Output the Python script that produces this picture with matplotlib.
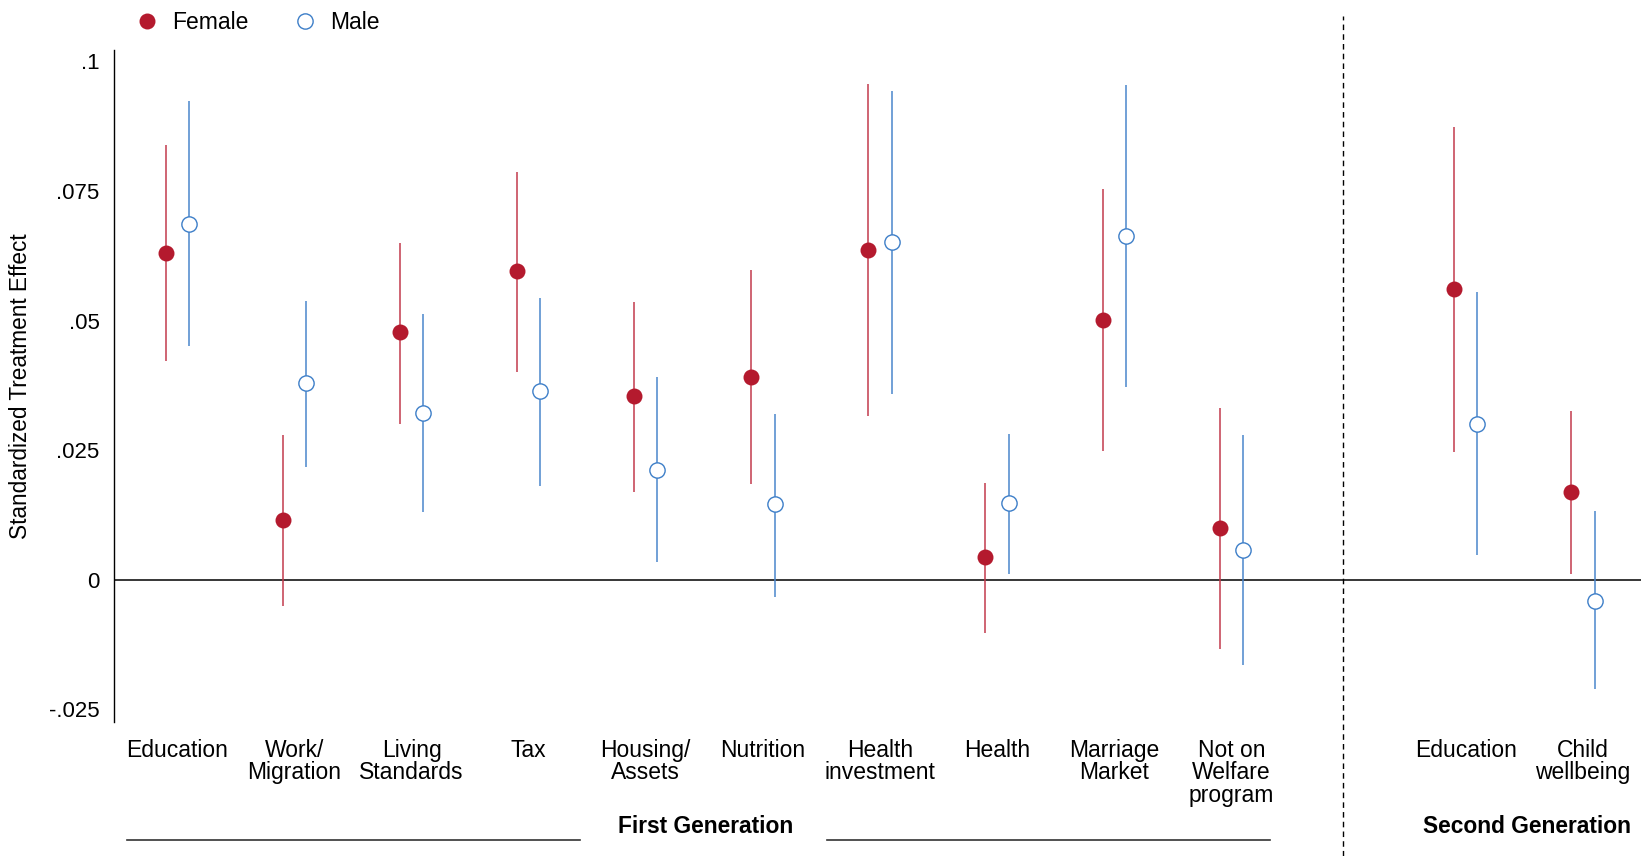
import matplotlib
matplotlib.use('Agg')
import matplotlib.pyplot as plt
import matplotlib.transforms as mtransforms
from matplotlib.lines import Line2D
import numpy as np

plt.rcParams['font.family'] = ['Liberation Sans', 'DejaVu Sans']

# categories (first generation 0-9, second generation 11-12)
labels = ['Education', 'Work/\nMigration', 'Living\nStandards', 'Tax', 'Housing/\nAssets',
          'Nutrition', 'Health\ninvestment', 'Health', 'Marriage\nMarket',
          'Not on\nWelfare\nprogram', 'Education', 'Child\nwellbeing']
positions = [0, 1, 2, 3, 4, 5, 6, 7, 8, 9, 11, 12]

# point estimates and confidence intervals
female_est = [0.0631, 0.0114, 0.0477, 0.0595, 0.0354, 0.0391, 0.0637, 0.0043, 0.0501, 0.0100, 0.0560, 0.0169]
female_lo = [0.0422, -0.0051, 0.0301, 0.0401, 0.0169, 0.0185, 0.0316, -0.0104, 0.0248, -0.0134, 0.0246, 0.0010]
female_hi = [0.0839, 0.0279, 0.0650, 0.0786, 0.0536, 0.0597, 0.0957, 0.0187, 0.0754, 0.0332, 0.0874, 0.0326]

male_est = [0.0686, 0.0379, 0.0322, 0.0363, 0.0212, 0.0145, 0.0652, 0.0147, 0.0664, 0.0057, 0.0301, -0.0041]
male_lo = [0.0450, 0.0218, 0.0130, 0.0181, 0.0033, -0.0033, 0.0358, 0.0010, 0.0371, -0.0165, 0.0047, -0.0212]
male_hi = [0.0923, 0.0538, 0.0513, 0.0544, 0.0391, 0.0320, 0.0943, 0.0281, 0.0955, 0.0279, 0.0556, 0.0132]

yticks = [-0.025, 0, 0.025, 0.05, 0.075, 0.1]
ytick_labels = ['-.025', '0', '.025', '.05', '.075', '.1']

RED = '#B41A2E'
BLUE = '#3D7EC8'

fig = plt.figure(figsize=(16.43, 8.56), dpi=100)
ax = fig.add_axes([0.0694, 0.1565, 0.9296, 0.785])

x = np.array(positions, dtype=float)
off = 0.1

fe = np.array(female_est)
me = np.array(male_est)
ax.errorbar(x - off, fe, yerr=[fe - np.array(female_lo), np.array(female_hi) - fe],
            fmt='o', color=RED, ecolor='#C23A4D', elinewidth=1.1, capsize=0,
            markersize=11.5, markeredgewidth=0, zorder=3)
ax.errorbar(x + off, me, yerr=[me - np.array(male_lo), np.array(male_hi) - me],
            fmt='o', color=BLUE, ecolor='#4A86CC', elinewidth=1.1, capsize=0,
            markersize=11, markerfacecolor='white', markeredgecolor=BLUE,
            markeredgewidth=1.0, zorder=3)

ax.axhline(0, color='black', linewidth=1.1, zorder=1)

ax.set_xlim(-0.54, 12.5)
ax.set_ylim(-0.0275, 0.1022)
ax.set_yticks(yticks)
ax.set_yticklabels(ytick_labels)
ax.set_xticks(positions)
ax.set_xticklabels(labels, linespacing=0.98)
ax.tick_params(axis='x', length=0, pad=12, labelsize=16.5)
ax.tick_params(axis='y', length=0, pad=10.5, labelsize=16)
for lab in ax.get_xticklabels():
    lab.set_horizontalalignment('center')
    lab.set_verticalalignment('top')
for s in ['top', 'right', 'bottom']:
    ax.spines[s].set_visible(False)
ax.spines['left'].set_linewidth(1.0)
ax.set_ylabel('Standardized Treatment Effect', fontsize=16.3, labelpad=12)

# separator between generations
trans = mtransforms.blended_transform_factory(ax.transData, fig.transFigure)
ax.plot([9.95, 9.95], [0.0, 0.981], transform=trans, color='black', linewidth=1.0,
        linestyle=(0, (4.0, 3.0)), clip_on=False)

# group labels
ax.text(4.51, 0.035, 'First Generation', transform=trans, ha='center', va='center',
        fontsize=16.4, fontweight='bold')
ax.text(11.52, 0.035, 'Second Generation', transform=trans, ha='center', va='center',
        fontsize=16.4, fontweight='bold')
ax.plot([-0.43, 3.44], [0.019, 0.019], transform=trans, color='#333333', linewidth=1.2, clip_on=False)
ax.plot([5.55, 9.33], [0.019, 0.019], transform=trans, color='#333333', linewidth=1.2, clip_on=False)

# legend
handles = [Line2D([], [], linestyle='none', marker='o', markersize=11.5, color=RED, markeredgewidth=0),
           Line2D([], [], linestyle='none', marker='o', markersize=11, markerfacecolor='white',
                  markeredgecolor=BLUE, markeredgewidth=1.0)]
fig.legend(handles, ['Female', 'Male'], loc='center left', bbox_to_anchor=(0.077, 0.974),
           ncol=2, frameon=False, fontsize=16.5, handlelength=1.0, handletextpad=0.6,
           columnspacing=1.95, borderaxespad=0)

fig.savefig('out.png', dpi=100)
